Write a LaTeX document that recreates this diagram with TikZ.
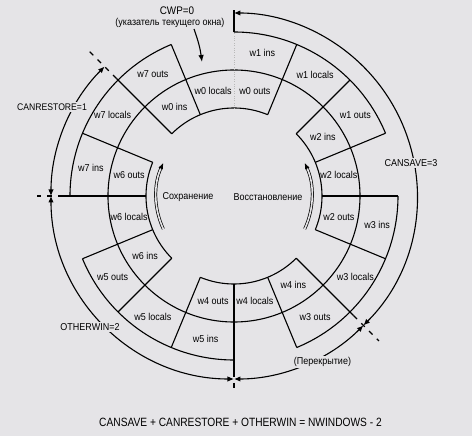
\documentclass[tikz,border=0pt]{standalone}
\usepackage{fontspec}
\setmainfont{Liberation Sans}[FakeStretch=0.9]
\newfontfamily\eqfont{Liberation Sans}[FakeStretch=0.85]
\usetikzlibrary{arrows.meta}
\definecolor{bg}{RGB}{229,228,231}
\begin{document}
\begin{tikzpicture}[x=1pt,y=1pt,
  cell/.style={line width=1.1pt},
  lbl/.style={font=\fontsize{10}{12}\selectfont, inner sep=0.5pt},
  marker/.style={line width=1.1pt, dash pattern=on 5pt off 6pt},
  span/.style={line width=1.1pt, {Latex[length=6.5pt,width=5.5pt]}-{Latex[length=6.5pt,width=5.5pt]}},
  tag/.style={font=\fontsize{10}{12}\selectfont, fill=bg, inner sep=1.5pt},
  turn/.style={line width=0.7pt, double=bg, double distance=1.6pt, -{Latex[length=6pt,width=5pt]}},
]
\fill[bg] (-234,-240) rectangle (238,196);
\useasboundingbox (-234,-240) rectangle (238,196);

% rings
\draw[cell] (0,0) circle[radius=126pt];
\foreach \a in {67.5,-22.5,-112.5,157.5}
  \draw[cell] (\a:88pt) arc[start angle=\a, delta angle=67.5, radius=88pt];
\foreach \a in {22.5,-67.5,-157.5,112.5}
  \draw[cell] (\a:164pt) arc[start angle=\a, delta angle=67.5, radius=164pt];

% radial boundaries
\foreach \a in {0,22.5,45,67.5,112.5,157.5,202.5,225,247.5,292.5,337.5}
  \draw[cell] (\a:88pt) -- (\a:164pt);
\draw[cell] (135:88pt) -- (135:166pt);
\draw[marker] (135:166pt) -- (135:206pt);
\draw[cell] (180:88pt) -- (180:171pt);
\draw[marker] (180:171pt) -- (180:197pt);
\draw[cell] (270:88pt) -- (270:176pt);
\draw[marker] (270:176pt) -- (270:192pt);
\draw[cell] (315:88pt) -- (315:169pt);
\draw[marker] (315:169pt) -- (315:205pt);
\draw[gray!55, line width=0.4pt, dotted] (90:88pt) -- (90:164pt);
\draw[cell] (90:164pt) -- (90:186pt);

% cell labels: inner windows
\node[lbl] (w0i) at (123.75:107pt) {w0 ins};
\node[lbl] (w0l) at (101.25:107pt) {w0 locals};
\node[lbl] (w0o) at (78.75:107pt) {w0 outs};
\node[lbl] (w2i) at (33.75:107pt) {w2 ins};
\node[lbl] (w2l) at (11.25:107pt) {w2 locals};
\node[lbl] (w2o) at (-11.25:107pt) {w2 outs};
\node[lbl] (w4i) at (-56.25:107pt) {w4 ins};
\node[lbl] (w4l) at (-78.75:107pt) {w4 locals};
\node[lbl] (w4o) at (-101.25:107pt) {w4 outs};
\node[lbl] (w6i) at (-146.25:107pt) {w6 ins};
\node[lbl] (w6l) at (-168.75:107pt) {w6 locals};
\node[lbl] (w6o) at (168.75:107pt) {w6 outs};
% outer windows
\node[lbl] (w1i) at (78.75:146pt) {w1 ins};
\node[lbl] (w1l) at (56.25:146pt) {w1 locals};
\node[lbl] (w1o) at (33.75:146pt) {w1 outs};
\node[lbl] (w3i) at (-11.25:146pt) {w3 ins};
\node[lbl] (w3l) at (-33.75:146pt) {w3 locals};
\node[lbl] (w3o) at (-56.25:146pt) {w3 outs};
\node[lbl] (w5i) at (-101.25:146pt) {w5 ins};
\node[lbl] (w5l) at (-123.75:146pt) {w5 locals};
\node[lbl] (w5o) at (-146.25:146pt) {w5 outs};
\node[lbl] (w7i) at (168.75:146pt) {w7 ins};
\node[lbl] (w7l) at (146.25:146pt) {w7 locals};
\node[lbl] (w7o) at (123.75:146pt) {w7 outs};

% save / restore arrows
\coordinate (sv1) at (205:78pt);
\coordinate (rs1) at (-25:78pt);
\draw[turn] (sv1) arc[start angle=205, end angle=155, radius=78pt];
\draw[turn] (rs1) arc[start angle=-25, end angle=25, radius=78pt];
\node[lbl] (sav) at (-46,-1) {Сохранение};
\node[lbl] (res) at (34,-1) {Восстановление};

% counters around the ring
\coordinate (p90) at (90:183pt);
\coordinate (p135) at (135:183pt);
\coordinate (p180) at (180:183pt);
\coordinate (p270) at (270:183pt);
\coordinate (p315) at (315:183pt);
\draw[span] (p315) arc[start angle=-45, end angle=90, radius=183pt];
\draw[span] (p180) arc[start angle=180, end angle=135, radius=183pt];
\draw[span] (p180) arc[start angle=180, end angle=270, radius=183pt];
\draw[span] (p270) arc[start angle=270, end angle=315, radius=183pt];
\node[tag] (cs) at (177,33) {CANSAVE=3};
\node[tag, font=\fontsize{9.6}{12}\selectfont] (cr) at (-182,89) {CANRESTORE=1};
\node[tag] (ow) at (-144,-131) {OTHERWIN=2};
\node[tag] (ov) at (88.5,-166) {(Перекрытие)};

% current window pointer
\node[font=\fontsize{11}{13}\selectfont, inner sep=0.5pt] (cwp) at (-57,185.5) {CWP=0};
\node[lbl] (cwpd) at (-64,173.5) {(указатель текущего окна)};
\coordinate (cwpA) at (-40,167);
\coordinate (cwpB) at (-32,134);
\draw[line width=1.1pt, -{Latex[length=7pt,width=5.5pt]}] (cwpA) to[bend left=6] (cwpB);

% equation
\node[font=\eqfont\fontsize{12}{14}\selectfont] (eq) at (6.5,-226) {CANSAVE + CANRESTORE + OTHERWIN = NWINDOWS - 2};
\end{tikzpicture}
\end{document}
